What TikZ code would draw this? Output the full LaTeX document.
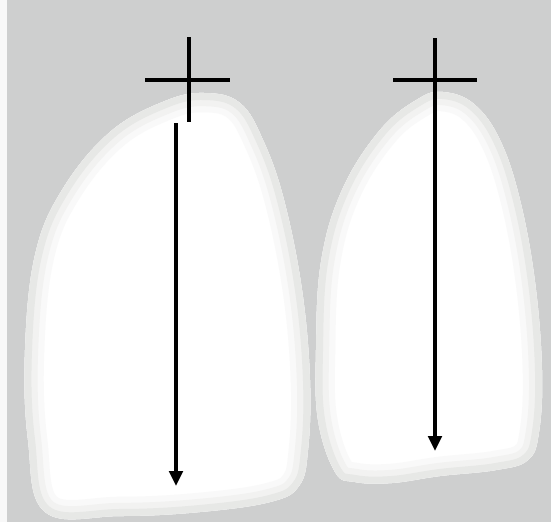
\documentclass[tikz,border=0pt]{standalone}
\usetikzlibrary{arrows.meta}
\definecolor{bggray}{RGB}{206,207,207}
\definecolor{rimgray}{RGB}{231,232,230}
\begin{document}
\begin{tikzpicture}[x=0.02cm, y=-0.02cm, >={Triangle[length=3mm,width=2.7mm]}, tooth/.style={fill=white}, rim/.style={draw=rimgray!#1!white}, cross/.style={line width=2.5pt, black}, axis/.style={->, line width=1.9pt, black}]

\useasboundingbox (0,0) rectangle (551,522);
\fill[bggray] (0,0) rectangle (551,522);
\fill[bggray!15!white] (0,0) rectangle (7,522);

\path[save path=\ltooth] plot[smooth cycle, tension=0.65] coordinates {(45,512) (28,440) (25,350) (35,255) (62,190) (110,132) (165,101) (205,93) (240,103) (263,140) (284,200) (302,290) (310,380) (308,450) (299,486) (270,502) (200,512) (120,516)};
\path[save path=\rtooth] plot[smooth cycle, tension=0.65] coordinates {(335,472) (318,420) (316,350) (321,262) (342,190) (380,130) (418,99) (443,92) (474,104) (500,140) (520,200) (535,282) (542,370) (539,432) (528,460) (496,470) (440,476) (392,483) (355,482)};

\fill[tooth, use path=\ltooth];
\fill[tooth, use path=\rtooth];
\begin{scope}
\path[clip, use path=\ltooth];
\draw[rim=25, line width=22pt, use path=\ltooth];
\draw[rim=55, line width=15pt, use path=\ltooth];
\draw[rim=100, line width=8pt, use path=\ltooth];
\end{scope}
\begin{scope}
\path[clip, use path=\rtooth];
\draw[rim=25, line width=22pt, use path=\rtooth];
\draw[rim=55, line width=15pt, use path=\rtooth];
\draw[rim=100, line width=8pt, use path=\rtooth];
\end{scope}

\coordinate (lw) at (145,80);
\coordinate (le) at (230,80);
\coordinate (ln) at (189,37);
\coordinate (ls) at (189,122);
\coordinate (la) at (176,123);
\coordinate (lb) at (176,486);
\coordinate (rw) at (393,80);
\coordinate (re) at (477,80);
\coordinate (rn) at (435,38);
\coordinate (rs) at (435,122);
\coordinate (rb) at (435,451);

\draw[cross] (lw) -- (le);
\draw[cross] (ln) -- (ls);
\draw[cross] (rw) -- (re);
\draw[cross] (rn) -- (rs);
\draw[axis] (la) -- (lb);
\draw[axis] (rs) -- (rb);
\end{tikzpicture}
\end{document}
